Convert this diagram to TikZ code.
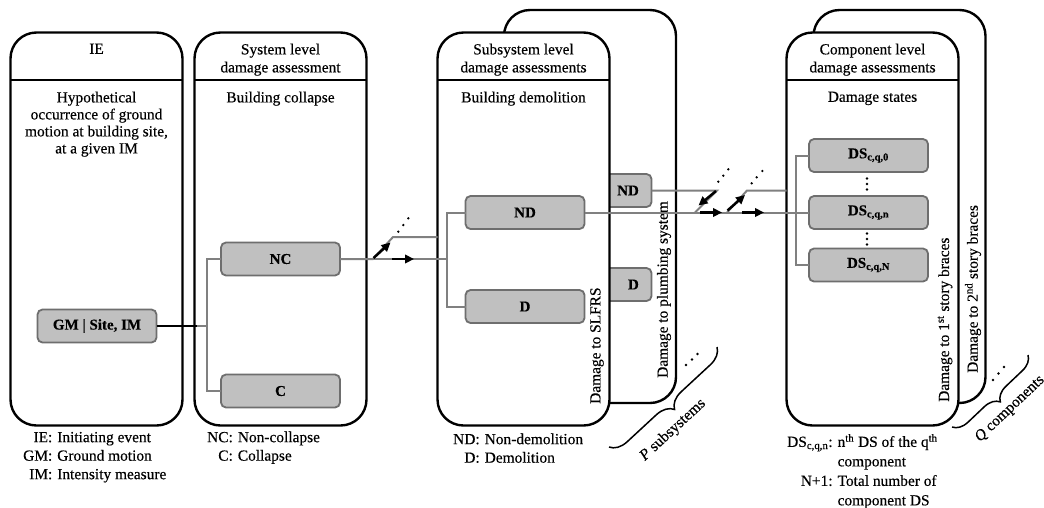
\documentclass[tikz,border=0pt]{standalone}
\usepackage{fontspec}
\setmainfont{Liberation Serif}[FakeBold=0.35, BoldFeatures={FakeBold=0.35}]
\usetikzlibrary{arrows.meta,decorations.pathreplacing,calc}
\definecolor{nodefill}{HTML}{C0C0C0}
\definecolor{nodeedge}{HTML}{6E6E6E}
\definecolor{conngray}{HTML}{808080}
\begin{document}
\begin{tikzpicture}[x=1pt,y=-1pt,
  panel/.style={draw=black, line width=2.4pt, fill=white, rounded corners=26pt,
     minimum width=172pt, minimum height=393pt, inner sep=0pt, outer sep=0pt},
  hline/.style={draw=black, line width=1.8pt},
  state/.style={draw=nodeedge, fill=nodefill, line width=1.8pt, rounded corners=5pt,
     minimum width=119pt, minimum height=33pt, inner sep=0pt, outer sep=0pt,
     font=\bfseries\fontsize{15}{17}\selectfont},
  conn/.style={draw=conngray, line width=2pt},
  blk/.style={draw=black, line width=2pt},
  arr/.style={draw=black, line width=2.5pt, -{Triangle[length=9pt,width=8.5pt]}},
  lbl/.style={font=\fontsize{15.4}{18}\selectfont, inner sep=0pt, align=center},
  body/.style={font=\fontsize{15.4}{17}\selectfont, inner sep=0pt, align=center},
  leg/.style={font=\fontsize{15.4}{18.5}\selectfont, inner sep=0pt, anchor=north west},
  dotn/.style={fill=black, circle, inner sep=0pt, minimum size=2.6pt},
  bracedec/.style={draw=black, line width=1.5pt, decorate, decoration={brace, amplitude=#1}}
]
\useasboundingbox (0,0) rectangle (1044,507);

% ---------- back panels ----------
\node[panel] (p3b) at (590,206.5) {};
\node[state] (bnd) at (592,190.5) {};
\node[state] (bd) at (592,284.5) {};
\node[panel] (p4b) at (899.5,206.5) {};

% ---------- front panels ----------
\node[panel] (p1) at (96.5,229) {};
\node[panel] (p2) at (280.5,229) {};
\node[panel] (p3) at (523.5,229) {};
\node[panel] (p4) at (872.5,229) {};
\foreach \p in {p1,p2,p3,p4}{
  \draw[hline] (\p.west |- 0,80) -- (\p.east |- 0,80);
}

% back-node labels (visible parts)
\node[font=\bfseries\fontsize{15}{17}\selectfont, inner sep=0pt, anchor=east] (bndl) at (639,190.5) {ND};
\node[font=\bfseries\fontsize{15}{17}\selectfont, inner sep=0pt, anchor=east] (bdl) at (639,284.5) {D};

% ---------- headers ----------
\node[lbl, anchor=north] (h1) at (96.5,43.5) {IE};
\node[lbl, anchor=north] (h2) at (280.5,43.5) {System level\\damage assessment};
\node[lbl, anchor=north] (h3) at (523.5,43.5) {Subsystem level\\damage assessments};
\node[lbl, anchor=north] (h4) at (872.5,43.5) {Component level\\damage assessments};

\node[body, anchor=north] (s1) at (96.5,91.5) {Hypothetical\\occurrence of ground\\motion at building site,\\at a given IM};
\node[body, anchor=north] (s2) at (280.5,91.5) {Building collapse};
\node[body, anchor=north] (s3) at (523.5,91.5) {Building demolition};
\node[body, anchor=north] (s4) at (872.5,91.5) {Damage states};

% ---------- rotated labels ----------
\node[lbl, rotate=90, anchor=west] (r1) at (597,404) {Damage to SLFRS};
\node[lbl, rotate=90, anchor=west] (r2) at (664,378) {Damage to plumbing system};
\node[lbl, rotate=90, anchor=west] (r3) at (945,402) {Damage to 1\textsuperscript{st} story braces};
\node[lbl, rotate=90, anchor=west] (r4) at (973,373) {Damage to 2\textsuperscript{nd} story braces};

% ---------- state nodes ----------
\node[state] (gm) at (97,326) {GM | Site, IM};
\node[state] (nc) at (280.5,259) {NC};
\node[state] (c) at (280.5,391) {C};
\node[state] (nd) at (525,212.5) {ND};
\node[state] (d) at (525,306.5) {D};
\node[state] (dsa) at (868.5,155.5) {DS\textsubscript{c,q,0}};
\node[state] (dsb) at (868.5,212.5) {DS\textsubscript{c,q,n}};
\node[state] (dsc) at (868.5,265) {DS\textsubscript{c,q,N}};

% vertical dots between DS nodes
\foreach \yy in {178.5,184,189.5,233.5,239,244.5}{
  \node[dotn] at (867,\yy) {};
}

% ---------- connectors ----------
\coordinate (j0a) at (197,326);
\coordinate (j0) at (207,326);
\draw[blk] (gm.east) -- (j0a);
\draw[conn] (j0a) -- (j0);
\draw[conn] (nc.west) -| (j0) |- (c.west);

\coordinate (j1) at (373,259);
\coordinate (d1) at (393,237);
\coordinate (j2) at (447,259);
\draw[conn] (nc.east) -- (j1) -- (d1) -- (p3.west |- d1);
\draw[conn] (j1) -- (j2);
\draw[conn] (nd.west) -| (j2) |- (d.west);

\coordinate (j3) at (695,212.5);
\coordinate (u3) at (717,190.5);
\coordinate (j4) at (727,212.5);
\coordinate (d4) at (747,190.5);
\coordinate (v5) at (796,212.5);
\draw[conn] (nd.east) -- (j3) -- (j4) -- (dsb.west);
\draw[conn] (bnd.east) -- (u3) -- (j3);
\draw[conn] (j4) -- (d4) -- (p4.west |- d4);
\draw[conn] (dsa.west) -| (v5) |- (dsc.west);

% black arrows
\draw[arr] (373.5,258) -- (390.5,242.5);
\draw[arr] (392,259) -- (414,259);
\draw[arr] (716,191) -- (698.5,205.5);
\draw[arr] (700,212.5) -- (722,212.5);
\draw[arr] (727.5,210.5) -- (745,195);
\draw[arr] (742,212.5) -- (764,212.5);

% dots (continuation)
\foreach \pt in {(398.3,231.7),(403.3,225),(408.3,218.3),
                 (718.3,181.7),(723.3,175.7),(728.3,169.3),
                 (751.7,183.3),(756.7,177.3),(762.3,171),
                 (686,365),(692,359.5),(697.5,354),
                 (993,380),(998.5,373.5),(1004,367)}{
  \node[dotn] at \pt {};
}

% braces
\coordinate (pb1) at (717,347);
\coordinate (pb2) at (609,447);
\draw[bracedec=17pt] (pb1) -- (pb2);
\node[lbl, rotate=42.8] (ptext) at (673,430) {\textit{P} subsystems};
\coordinate (qb1) at (1028,355);
\coordinate (qb2) at (952,427);
\draw[bracedec=15pt] (qb1) -- (qb2);
\node[lbl, rotate=43.5] (qtext) at (1010,409) {\textit{Q} components};

% ---------- legends ----------
\node[leg] (l1) at (23,429) {\begin{tabular}{@{}r@{\hspace{5pt}}l@{}}IE: & Initiating event\\ GM: & Ground motion\\ IM: & Intensity measure\end{tabular}};
\node[leg] (l2) at (207,429) {\begin{tabular}{@{}r@{\hspace{5pt}}l@{}}NC: & Non-collapse\\ C: & Collapse\end{tabular}};
\node[leg] (l3) at (453,431) {\begin{tabular}{@{}r@{\hspace{5pt}}l@{}}ND: & Non-demolition\\ D: & Demolition\end{tabular}};
\node[leg, font=\fontsize{15.4}{19.5}\selectfont] (l4) at (787,433) {\begin{tabular}{@{}r@{\hspace{5pt}}l@{}}DS\textsubscript{c,q,n}: & n\textsuperscript{th} DS of the q\textsuperscript{th}\\ & component\\ N+1: & Total number of\\ & component DS\end{tabular}};
\end{tikzpicture}
\end{document}
